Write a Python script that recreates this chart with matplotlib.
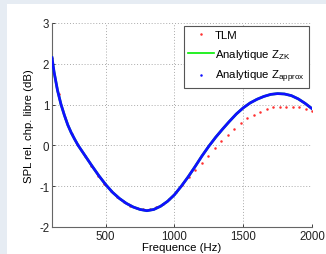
import matplotlib
matplotlib.use("Agg")
import matplotlib.pyplot as plt
import numpy as np
from matplotlib.lines import Line2D
from matplotlib.patches import Rectangle

plt.rcParams['font.family'] = ['Liberation Sans', 'DejaVu Sans']
plt.rcParams['mathtext.fontset'] = 'custom'
plt.rcParams['mathtext.rm'] = 'Liberation Sans'
plt.rcParams['axes.unicode_minus'] = False

# courbes analytiques (Z_ZK et Z_approx quasi identiques)
f_ana = [110, 125, 150, 175, 200, 225, 250, 275, 300, 350, 400, 450, 500, 550,
         600, 650, 700, 750, 800, 850, 900, 950, 1000, 1050, 1100, 1150, 1200,
         1250, 1300, 1350, 1400, 1450, 1500, 1550, 1600, 1650, 1700, 1750,
         1800, 1850, 1900, 1950, 2000]
spl_approx = [2.15, 1.80, 1.35, 1.01, 0.74, 0.50, 0.31, 0.15, 0.0, -0.25,
              -0.50, -0.74, -0.96, -1.15, -1.30, -1.42, -1.51, -1.57, -1.60,
              -1.57, -1.49, -1.37, -1.21, -1.00, -0.77, -0.52, -0.26, -0.02,
              0.20, 0.40, 0.59, 0.77, 0.92, 1.04, 1.13, 1.20, 1.25, 1.27, 1.26,
              1.22, 1.14, 1.03, 0.90]
spl_zk = spl_approx

# simulation TLM
f_tlm = np.linspace(110, 2000, 41)
spl_tlm = [2.15, 1.25, 0.66, 0.28, 0.0, -0.26, -0.50, -0.74, -0.95, -1.12,
           -1.26, -1.38, -1.48, -1.54, -1.57, -1.57, -1.52, -1.43, -1.31,
           -1.15, -0.97, -0.78, -0.60, -0.44, -0.25, -0.07, 0.11, 0.26, 0.40,
           0.54, 0.66, 0.74, 0.82, 0.88, 0.93, 0.94, 0.94, 0.94, 0.93, 0.89,
           0.85]

xticks = [500, 1000, 1500, 2000]
yticks = [-2, -1, 0, 1, 2, 3]

fig = plt.figure(figsize=(3.26, 2.55), dpi=100, facecolor='#e6ecf3')
fig.patches.append(Rectangle((7 / 326, 0), 1, 250 / 255, transform=fig.transFigure,
                             facecolor='white', edgecolor='none', zorder=-1))
ax = fig.add_axes([52 / 326, 1 - 228 / 255, 260 / 326, 204 / 255])

ax.plot(f_tlm, spl_tlm, 'o', color='#ff3030', ms=1.8, mew=0, zorder=2)
ax.plot(f_ana, spl_zk, '-', color='#00ee00', lw=1.8, zorder=3)
ax.plot(f_ana, spl_approx, '-', color='#1010ff', lw=2.0, zorder=4)

ax.set_xlim(110, 2000)
ax.set_ylim(-2, 3)
ax.set_xticks(xticks)
ax.set_yticks(yticks)
ax.tick_params(direction='in', length=2, width=0.6, labelsize=8.3, colors='#222222', pad=2)
ax.grid(True, linestyle=(0, (1, 2)), color='#aaaaaa', lw=0.7)
for s in ['top', 'right']:
    ax.spines[s].set_visible(False)
for s in ['left', 'bottom']:
    ax.spines[s].set_color('#666666')
    ax.spines[s].set_linewidth(0.8)

ax.set_xlabel('Frequence (Hz)', fontsize=8.2, labelpad=0.5)
ax.set_ylabel('SPL rel. chp. libre (dB)', fontsize=8.2, labelpad=4)

handles = [
    Line2D([], [], ls='none', marker='o', color='#ff3030', ms=1.8, mew=0),
    Line2D([], [], ls='-', color='#00ee00', lw=1.2),
    Line2D([], [], ls='none', marker='o', color='#1010ff', ms=1.8, mew=0),
]
labels = ['TLM', 'Analytique Z$_{\\mathrm{ZK}}$', 'Analytique Z$_{\\mathrm{approx}}$']
leg = ax.legend(handles, labels, loc='upper right', fontsize=8.2, fancybox=False,
                framealpha=1, edgecolor='#555555', handlelength=2.3,
                handletextpad=0.1, borderpad=0.35, labelspacing=0.6,
                borderaxespad=0.3)
leg.get_frame().set_linewidth(0.8)

fig.savefig('out.png', dpi=100, facecolor=fig.get_facecolor())
